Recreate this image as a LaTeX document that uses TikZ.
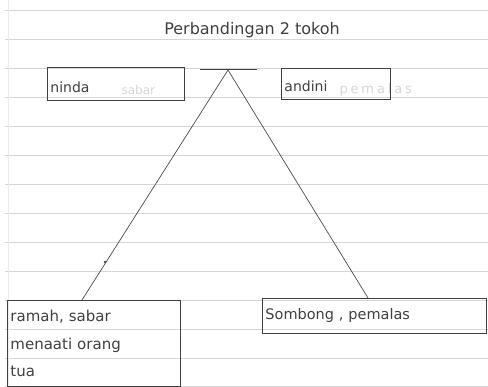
\documentclass[tikz,border=0pt]{standalone}
\usepackage{fontspec}
\setmainfont{DejaVu Sans}
\newfontfamily\ghostfont[LetterSpace=22]{DejaVu Sans}
\begin{document}
\begin{tikzpicture}[x=1pt,y=-1pt,
  rule/.style={draw=black!16,line width=0.8pt},
  pen/.style={draw=black!75,line width=0.9pt},
  ink/.style={text=black!75},
  ghost/.style={text=black!16},
  tbox/.style={pen,ink,inner xsep=3pt,inner ysep=0pt,align=left,anchor=north west},
  conn/.style={draw=black!70,line width=0.7pt}]
\useasboundingbox (0,0) rectangle (488,387);
\fill[white] (0,0) rectangle (488,387);
% ruled notebook lines
\foreach \yy in {10,39,68,97,126,155,184,213,242,271,300,329,358,386}
  \draw[rule] (5,\yy) -- (488,\yy);
\draw[draw=black!8,line width=0.6pt] (8,0) -- (8,387);
% title
\node[ink,font=\fontsize{16}{19}\selectfont] (title) at (252,30) {Perbandingan 2 tokoh};
% faint erased words
\node[ghost,font=\fontsize{12}{14}\selectfont,anchor=west] (gsabar) at (118,90) {sabar};
\node[ghost,font=\fontsize{13}{15}\ghostfont,anchor=west] (gpemalas) at (336,90) {pemalas};
% top boxes
\node[tbox,text width=131pt,minimum height=33pt,text height=21pt,text depth=4pt,font=\fontsize{14}{16}\selectfont] (ninda) at (47,67) {ninda};
\node[tbox,text width=103pt,minimum height=31pt,text height=20pt,text depth=4pt,font=\fontsize{14}{16}\selectfont] (andini) at (281,68) {andini};
% bar and apex
\coordinate (barL) at (200,69);
\coordinate (barR) at (257,69);
\coordinate (apex) at (228,70);
\draw[pen] (barL) -- (barR);
% bottom boxes
\node[tbox,text width=167pt,minimum height=86pt,font=\fontsize{15}{27.5}\selectfont] (ramah) at (7,300) {ramah, sabar\\menaati orang\\tua};
\node[tbox,text width=218pt,minimum height=35pt,font=\fontsize{14.5}{17}\selectfont] (sombong) at (262,298) {Sombong , pemalas};
% connectors
\coordinate (endL) at (82,300);
\coordinate (endR) at (368,298);
\draw[conn] (apex) -- (endL |- ramah.north);
\draw[conn] (apex) -- (endR |- sombong.north);
\fill[black!70] (105,262) circle (1.3pt);
\end{tikzpicture}
\end{document}
